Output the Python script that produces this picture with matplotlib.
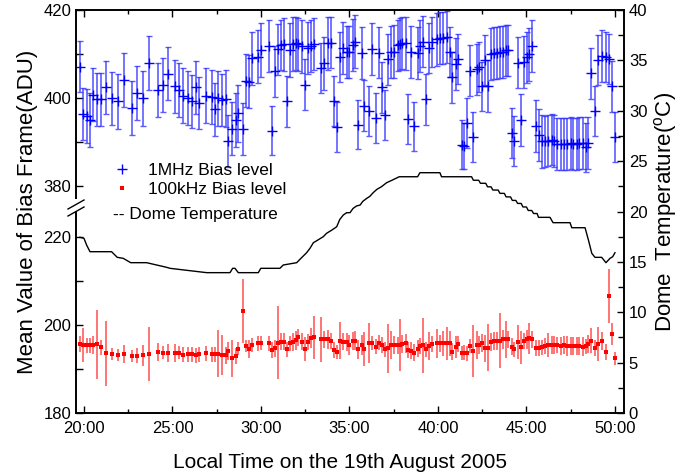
import numpy as np
import matplotlib
matplotlib.use("Agg")
import matplotlib.pyplot as plt
from matplotlib.lines import Line2D
from matplotlib.patches import Rectangle
from matplotlib.ticker import FixedLocator, MultipleLocator, FixedFormatter

plt.rcParams['font.family'] = ['Liberation Sans', 'DejaVu Sans']
plt.rcParams['mathtext.fontset'] = 'custom'
plt.rcParams['mathtext.rm'] = 'Liberation Sans'
plt.rcParams['mathtext.it'] = 'Liberation Sans:italic'

# ---------------- data ----------------
time_min = [19.77, 19.96, 20.15, 20.34, 20.53, 20.75, 20.96, 21.24, 21.60, 21.90,
            22.28, 22.69, 22.99, 23.33, 23.67, 24.16, 24.44, 24.73, 25.14, 25.39,
            25.61, 25.86, 26.08, 26.31, 26.52, 26.89, 27.21, 27.40, 27.59, 27.78,
            28.00, 28.15, 28.34, 28.57, 28.72, 29.00, 29.13, 29.32, 29.47, 29.81,
            30.00, 30.45, 30.64, 30.79, 30.98, 31.13, 31.32, 31.49, 31.64, 31.79,
            31.96, 32.11, 32.34, 32.49, 32.64, 32.82, 33.01, 33.39, 33.58, 33.77,
            33.95, 34.14, 34.29, 34.48, 34.63, 34.84, 34.99, 35.18, 35.31, 35.50,
            35.69, 35.84, 36.12, 36.29, 36.48, 36.67, 36.82, 37.01, 37.16, 37.34,
            37.53, 37.72, 37.85, 37.98, 38.17, 38.32, 38.47, 38.66, 38.85, 39.00,
            39.17, 39.32, 39.49, 39.64,
            39.92, 40.11, 40.30, 40.49, 40.68, 40.81, 41.00, 41.15, 41.34, 41.49,
            41.66, 41.81, 42.00, 42.18, 42.34, 42.47, 42.66, 42.81, 42.99, 43.18,
            43.31, 43.50, 43.65, 43.82, 43.97, 44.16, 44.31, 44.50, 44.69, 44.84,
            45.01, 45.16, 45.33, 45.52, 45.71, 45.89, 46.05, 46.23, 46.42, 46.57,
            46.74, 46.93, 47.12, 47.31, 47.50, 47.65, 47.83, 47.98, 48.17, 48.34,
            48.49, 48.64, 48.87, 49.06, 49.25, 49.49, 49.66, 49.81, 50.00]

bias_1mhz = [407.1, 396.3, 395.9, 395.0, 400.7, 399.7, 399.7, 402.4, 399.9, 399.2,
             404.1, 397.7, 401.1, 399.9, 407.9, 401.8, 403.0, 405.5, 402.6, 401.8,
             400.5, 400.0, 399.2, 402.4, 398.8, 400.5, 400.3, 397.4, 399.9, 399.5,
             399.8, 390.1, 393.0, 395.0, 396.5, 392.9, 403.9, 403.7, 409.0, 409.4,
             410.9, 411.8, 392.5, 406.1, 411.1, 412.0, 412.2, 399.2, 410.9, 412.2,
             412.4, 412.2, 411.7, 403.0, 411.4, 411.8, 412.3, 406.7, 407.9, 412.4,
             412.6, 399.2, 393.3, 409.4, 411.3, 410.5, 410.5, 412.0, 412.8, 393.9,
             410.2, 398.2, 397.1, 411.1, 395.4, 410.3, 402.4, 396.1, 408.8, 410.5,
             410.5, 412.0, 412.2, 412.4, 412.4, 395.2, 410.5, 393.5, 410.2, 411.8,
             412.8, 399.7, 411.4, 412.7,
             413.3, 413.6, 413.7, 413.8, 410.5, 404.7, 407.7, 408.8, 389.3, 389.1,
             394.2, 406.2, 391.2, 406.5, 407.0, 402.6, 408.6, 402.7, 409.9, 410.2,
             410.2, 410.4, 410.5, 410.8, 410.8, 392.0, 390.2, 408.0, 395.0, 408.1,
             409.2, 409.9, 411.8, 393.6, 391.6, 390.1, 390.1, 390.3, 390.5, 390.2,
             389.5, 389.5, 389.5, 389.5, 389.7, 389.5, 389.5, 389.7, 389.8, 388.8,
             389.8, 405.6, 397.1, 408.6, 409.5, 409.4, 408.8, 402.6, 391.1]

err_1mhz = [5.87, 5.87, 6.06, 6.06, 6.06, 6.06, 6.06, 5.95, 6.06, 6.20,
            6.06, 6.06, 6.06, 6.33, 6.14, 6.20, 6.17, 6.06, 6.06, 6.25,
            6.25, 6.10, 6.06, 6.10, 5.87, 6.25, 6.14, 6.06, 6.25, 6.00,
            6.44, 5.90, 6.00, 6.06, 6.44, 5.98, 6.06, 6.06, 6.06, 6.06,
            6.06, 5.95, 5.57, 5.80, 5.80, 5.68, 5.98, 5.83, 6.06, 6.10,
            6.06, 6.06, 5.95, 5.76, 5.87, 5.95, 5.98, 5.68, 6.06, 6.06,
            5.80, 5.68, 5.68, 5.68, 5.95, 5.87, 5.87, 5.87, 5.95, 5.60,
            5.87, 5.76, 5.68, 5.87, 5.76, 5.87, 5.76, 5.68, 5.80, 5.95,
            6.06, 5.80, 5.87, 5.90, 5.98, 5.68, 5.95, 5.68, 5.87, 5.87,
            5.83, 5.80, 5.68, 5.68,
            6.06, 5.95, 5.95, 5.90, 5.68, 5.80, 5.87, 5.68, 5.57, 5.30,
            5.68, 5.83, 5.68, 5.80, 5.76, 5.68, 5.68, 5.95, 5.90, 5.87,
            5.87, 5.90, 5.87, 5.87, 5.87, 5.68, 5.60, 5.80, 5.83, 5.95,
            5.87, 5.95, 5.83, 5.87, 5.95, 5.95, 5.87, 5.90, 5.87, 5.90,
            5.87, 5.87, 5.87, 5.83, 5.87, 5.90, 5.87, 5.87, 5.87, 5.60,
            5.87, 5.83, 5.68, 5.68, 5.87, 5.68, 5.68, 5.87, 5.68]

bias_100khz = [195.68, 195.45, 195.45, 195.38, 195.45, 195.68, 194.92, 193.56, 193.41, 193.18,
               193.41, 193.03, 193.03, 193.10, 193.41, 193.86, 193.71, 193.71, 193.71, 193.71,
               193.26, 193.33, 193.33, 193.10, 193.41, 193.56, 193.33, 193.33, 193.48, 193.10,
               193.10, 194.17, 192.42, 192.95, 194.62, 203.18, 195.23, 194.62, 195.45, 195.83,
               195.98, 195.83, 194.32, 194.70, 195.98, 196.21, 196.21, 194.47, 195.83, 196.21,
               196.59, 197.20, 196.21, 194.47, 196.14, 196.97, 197.20, 196.74, 196.74, 196.74,
               196.44, 194.32, 193.86, 196.44, 196.21, 196.21, 195.45, 196.36, 196.44, 194.47,
               195.45, 194.62, 195.98, 195.98, 195.08, 195.98, 195.45, 194.47, 194.70, 195.45,
               195.45, 195.38, 195.45, 195.68, 195.83, 194.32, 194.17, 193.71, 194.62, 195.23,
               195.45, 194.47, 195.23, 195.68,
               195.83, 195.83, 195.83, 195.83, 195.83, 193.94, 195.08, 195.68, 193.71, 193.71,
               193.56, 195.23, 194.17, 195.45, 195.45, 195.98, 194.70, 194.85, 196.21, 196.36,
               196.44, 196.44, 196.74, 196.74, 196.74, 195.08, 194.47, 196.21, 194.92, 196.44,
               196.74, 196.97, 196.74, 194.85, 194.85, 194.92, 195.23, 195.45, 195.45, 195.45,
               195.45, 195.30, 195.45, 195.23, 195.23, 195.23, 195.23, 195.23, 195.08, 195.23,
               195.68, 196.44, 194.70, 195.68, 196.44, 193.94, 206.59, 197.95, 192.42]

err_100khz = [1.89, 3.79, 1.70, 1.78, 2.08, 7.84, 1.70, 7.42, 1.33, 1.40,
              2.00, 1.33, 1.70, 2.46, 6.06, 2.08, 1.52, 2.00, 2.00, 1.52,
              1.74, 1.63, 1.70, 1.63, 1.70, 1.67, 1.70, 1.74, 5.30, 4.55,
              1.89, 2.00, 4.13, 1.78, 1.52, 7.20, 1.33, 2.00, 1.63, 1.74,
              1.59, 1.70, 1.78, 1.97, 8.26, 1.89, 1.97, 1.63, 1.78, 2.08,
              2.16, 2.00, 1.89, 2.73, 1.89, 2.27, 4.96, 5.11, 1.89, 2.08,
              1.82, 1.89, 1.63, 4.24, 1.97, 2.05, 2.27, 2.08, 2.16, 2.20,
              2.27, 3.90, 4.58, 1.59, 1.70, 1.70, 1.89, 1.78, 5.49, 3.14,
              1.97, 1.97, 5.95, 2.00, 2.12, 1.89, 1.89, 1.89, 1.89, 1.78,
              6.25, 1.78, 3.14, 1.89,
              3.30, 1.89, 2.92, 3.71, 2.80, 1.89, 2.54, 1.82, 1.63, 1.70,
              1.67, 1.67, 5.95, 3.14, 1.97, 2.08, 3.14, 5.38, 2.05, 2.08,
              2.08, 6.25, 2.08, 4.28, 1.97, 1.89, 1.70, 3.86, 3.79, 1.78,
              2.08, 3.56, 1.89, 1.82, 1.82, 1.78, 1.78, 2.73, 1.97, 2.05,
              1.89, 2.08, 1.97, 2.27, 2.08, 2.00, 2.08, 2.08, 2.20, 1.70,
              2.00, 2.84, 1.82, 3.79, 2.08, 1.82, 6.06, 2.58, 1.40]

temp_time = [19.77, 20.00, 20.15, 20.34, 21.56, 21.88, 22.22, 22.64, 23.54, 24.67,
             24.86, 26.93, 28.25, 28.40, 28.53, 28.72, 29.85, 29.99, 31.07, 31.26,
             32.02, 32.20, 32.58, 32.77, 32.96, 33.15, 33.52, 33.71, 34.00, 34.28,
             34.45, 34.65, 34.84, 35.03, 35.20, 35.40, 35.60, 35.75, 35.97, 36.15,
             36.34, 36.55, 36.80, 37.10, 37.40, 37.81, 38.85, 38.98, 40.11, 40.20,
             41.90, 42.00, 42.30, 42.40, 42.70, 42.80, 43.00, 43.10, 43.40, 43.50,
             43.75, 43.85, 44.10, 44.20, 44.40, 44.50, 44.70, 44.80, 45.00, 45.10,
             45.30, 45.40, 45.60, 45.68, 46.33, 46.50, 47.46, 47.56, 48.31, 48.50,
             48.69, 48.87, 49.25, 49.49, 49.72, 49.87, 50.00]
temp_c = [17.44, 17.34, 16.67, 16.01, 16.01, 15.45, 15.35, 14.92, 14.92, 14.46,
          14.36, 13.93, 13.93, 14.36, 14.36, 13.93, 13.93, 14.36, 14.36, 14.69,
          14.92, 15.25, 15.91, 16.35, 16.90, 17.10, 17.50, 17.84, 18.15, 18.49,
          19.20, 19.65, 19.88, 19.88, 20.30, 20.55, 20.64, 21.00, 21.30, 21.50,
          21.87, 22.20, 22.45, 22.86, 23.10, 23.45, 23.45, 23.85, 23.85, 23.45,
          23.45, 23.10, 23.10, 22.80, 22.80, 22.45, 22.45, 22.13, 22.13, 21.80,
          21.80, 21.45, 21.45, 21.10, 21.10, 20.80, 20.80, 20.45, 20.45, 20.10,
          20.10, 19.80, 19.80, 19.42, 19.42, 18.89, 18.89, 18.39, 18.39, 17.17,
          15.85, 15.45, 15.45, 14.92, 15.35, 15.51, 15.91]

x_ticks = [20, 25, 30, 35, 40, 45, 50]
x_tick_labels = ["20:00", "25:00", "30:00", "35:00", "40:00", "45:00", "50:00"]
left_major = [180, 200, 220, 380, 400, 420]
left_minor = [190, 210, 390, 410]

# ---------------- broken left scale ----------------
seg_adu = [80.0, 180.0, 220.0, 380.0, 420.0, 520.0]
seg_pos = [-43.625, 0.0, 17.45, 22.55, 40.0, 83.625]

def fwd(v):
    return np.interp(v, seg_adu, seg_pos)

def inv(p):
    return np.interp(p, seg_pos, seg_adu)

W, H = 681, 474
fig = plt.figure(figsize=(W / 100, H / 100), dpi=100)
ax = fig.add_axes([76 / W, 61 / H, 548 / W, 403 / H])
ax.set_yscale('function', functions=(fwd, inv))
ax.set_ylim(180, 420)
ax.set_xlim(19.55, 50.51)

ax.errorbar(time_min, bias_1mhz, yerr=err_1mhz, fmt='+', color='#0000ff',
            ecolor=(0.2, 0.2, 1.0, 0.8),
            ms=6.5, mew=1.0, elinewidth=1.2, capsize=2.5, capthick=1.2, zorder=3)
ax.errorbar(time_min, bias_100khz, yerr=err_100khz, fmt='s', color='#ff0000',
            ecolor=(1.0, 0.2, 0.2, 0.8),
            ms=3.5, mew=0, elinewidth=1.2, capsize=2.5, capthick=1.2, zorder=3)

ax2 = ax.twinx()
ax2.set_ylim(0, 40)
ax2.plot(temp_time, temp_c, color='black', lw=1.0)

# ticks
ax.xaxis.set_major_locator(FixedLocator(x_ticks))
ax.xaxis.set_major_formatter(FixedFormatter(x_tick_labels))
ax.xaxis.set_minor_locator(MultipleLocator(2.5))
ax.yaxis.set_major_locator(FixedLocator(left_major))
ax.yaxis.set_minor_locator(FixedLocator(left_minor))
ax.yaxis.set_major_formatter(FixedFormatter([str(v) for v in left_major]))
ax.tick_params(axis='both', which='both', direction='in', labelsize=12, width=1.0)
ax.tick_params(axis='x', which='both', top=True)
ax.tick_params(axis='both', which='major', length=5)
ax.tick_params(axis='y', which='minor', length=5)
ax.tick_params(axis='x', which='minor', length=3)
ax.tick_params(axis='x', pad=6)

ax2.yaxis.set_major_locator(MultipleLocator(5))
ax2.yaxis.set_minor_locator(MultipleLocator(2.5))
ax2.tick_params(axis='y', which='both', direction='in', labelsize=12, width=1.0)
ax2.tick_params(axis='y', which='major', length=5)
ax2.tick_params(axis='y', which='minor', length=4)

for a in (ax, ax2):
    for s in a.spines.values():
        s.set_linewidth(1.2)

ax.set_xlabel('Local Time on the 19th August 2005', fontsize=15, labelpad=12)
ax.xaxis.label.set_x((340 - 76) / 548)
ax.set_ylabel('Mean Value of Bias Frame(ADU)', fontsize=16, labelpad=4)
ax2.set_ylabel('Dome  Temperature($^{\\mathrm{o}}$C)', fontsize=16, labelpad=3)

# legend
handles = [Line2D([], [], ls='none', marker='+', color='#0000ff', ms=6.5, mew=1.0),
           Line2D([], [], ls='none', marker='s', color='#ff0000', ms=3.5, mew=0)]
leg = ax2.legend(handles, ['1MHz Bias level', '100kHz Bias level'], loc='upper left',
                 bbox_to_anchor=((105 - 76) / 548, (413 - 163) / 403), frameon=False,
                 fontsize=12.5, handlelength=2.0, handletextpad=0.45, borderpad=0,
                 borderaxespad=0, labelspacing=0.2)
fig.text(113 / W, 1 - 215 / H, '-- Dome Temperature', fontsize=12.5, va='center', ha='left')

# axis break marks on left spine
fig.patches.append(Rectangle((70 / W, 1 - 211 / H), 12 / W, 12 / H, transform=fig.transFigure,
                             facecolor='white', edgecolor='none', zorder=10))
for dy in (0, 7):
    fig.lines.append(Line2D([68 / W, 84 / W], [1 - (209 + dy) / H, 1 - (200 + dy) / H],
                            transform=fig.transFigure, color='black', lw=1.0, zorder=11))

fig.savefig('out.png', dpi=100)
